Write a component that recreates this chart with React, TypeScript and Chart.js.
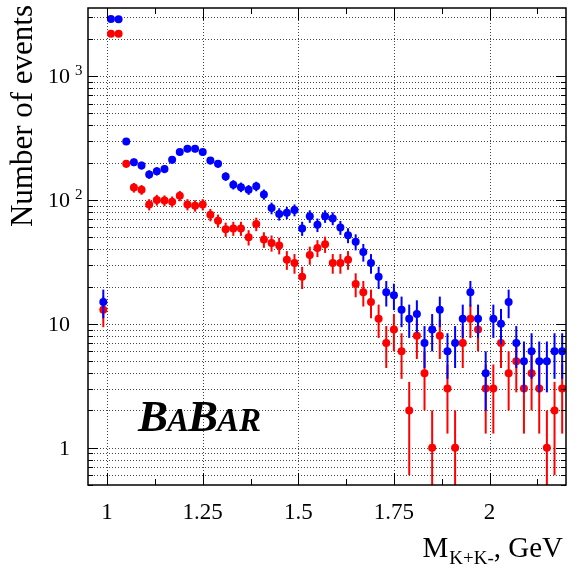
import React, { useEffect, useRef } from "react";
import { Chart, registerables } from "chart.js";

Chart.register(...registerables);

// Bin centres of M(K+K-), GeV
const massBins = [
  0.99, 1.01, 1.03, 1.05, 1.07, 1.09, 1.11, 1.13, 1.15, 1.17, 1.19, 1.21, 1.23, 1.25, 1.27, 1.29,
  1.31, 1.33, 1.35, 1.37, 1.39, 1.41, 1.43, 1.45, 1.47, 1.49, 1.51, 1.53, 1.55, 1.57, 1.59, 1.61,
  1.63, 1.65, 1.67, 1.69, 1.71, 1.73, 1.75, 1.77, 1.79, 1.81, 1.83, 1.85, 1.87, 1.89, 1.91, 1.93,
  1.95, 1.97, 1.99, 2.01, 2.03, 2.05, 2.07, 2.09, 2.11, 2.13, 2.15, 2.17, 2.19,
];

const blueCounts = [
  15, 2900, 2880, 297, 202, 190, 161, 171, 178, 211, 244, 259, 259, 244, 208, 196,
  155, 133, 127, 121, 129, 111, 86, 77, 79, 83, 59, 74, 63, 74, 71, 60,
  52, 46, 38, 31, 24, 18, 17, 13, 11, 12, 7, 9, 13, 6, 7, 11,
  18, 11, 4, 11, 10, 15, 7, 5, 6, 5, 5, 6, 6,
];
const blueErrors = [
  3.9, 53.9, 53.7, 17.2, 14.2, 13.8, 12.7, 13.1, 13.3, 14.5, 15.6, 16.1, 16.1, 15.6, 14.4, 14.0,
  12.4, 11.5, 11.3, 11.0, 11.4, 10.5, 9.3, 8.8, 8.9, 9.1, 7.7, 8.6, 7.9, 8.6, 8.4, 7.7,
  7.2, 6.8, 6.2, 5.6, 4.9, 4.2, 4.1, 3.6, 3.3, 3.5, 2.6, 3.0, 3.6, 2.4, 2.6, 3.3,
  4.2, 3.3, 2.0, 3.3, 3.2, 3.9, 2.6, 2.2, 2.4, 2.2, 2.2, 2.4, 2.4,
];

const redCounts = [
  13, 2200, 2200, 196, 126, 121, 92, 100, 99, 97, 108, 92, 90, 92, 76, 68,
  58, 59, 59, 50, 64, 48, 45, 43, 33, 31, 24, 36, 41, 44, 31, 31,
  33, 21, 18, 15, 11, 7, 9, 6, 2, 8, 4, 1, 8, 3, 1, 7,
  11, 9, 3, 3, 7, 4, 5, 3, 4, 3, 1, 2, 3,
];
const redErrors = [
  3.6, 46.9, 46.9, 14.0, 11.2, 11.0, 9.6, 10.0, 9.9, 9.8, 10.4, 9.6, 9.5, 9.6, 8.7, 8.2,
  7.6, 7.7, 7.7, 7.1, 8.0, 6.9, 6.7, 6.6, 5.7, 5.6, 4.9, 6.0, 6.4, 6.6, 5.6, 5.6,
  5.7, 4.6, 4.2, 3.9, 3.3, 2.6, 3.0, 2.4, 1.4, 2.8, 2.0, 1.0, 2.8, 1.7, 1.0, 2.6,
  3.3, 3.0, 1.7, 1.7, 2.6, 2.0, 2.2, 1.7, 2.0, 1.7, 1.0, 1.4, 1.7,
];

const xMajorTicks = [1, 1.25, 1.5, 1.75, 2];
const xTickLabels = ["1", "1.25", "1.5", "1.75", "2"];
const xMinorTicks = [1.125, 1.375, 1.625, 1.875, 2.125];

const yMajorTicks = [1, 10, 100, 1000];
const yTickBase = ["1", "10", "10", "10"];
const yTickExp = ["", "", "2", "3"];
const yMinorTicks = [
  0.5, 0.6, 0.7, 0.8, 0.9, 2, 3, 4, 5, 6, 7, 8, 9, 20, 30, 40, 50, 60, 70, 80, 90,
  200, 300, 400, 500, 600, 700, 800, 900, 2000, 3000,
];

const X_MIN = 0.95;
const X_MAX = 2.2;
const Y_MIN = 0.5;
const Y_MAX = 3550;

const BLUE = "#0000ff";
const RED = "#ff0000";
const seriesCounts = [blueCounts, redCounts];
const seriesErrors = [blueErrors, redErrors];
const seriesColors = [BLUE, RED];

const SERIF = '"Liberation Serif", "Times New Roman", serif';

const rootPlugin = {
  id: "rootStyle",
  beforeDatasetsDraw(chart: any) {
    const { ctx, chartArea: a, scales } = chart;
    const xs = scales.x;
    const ys = scales.y;
    ctx.save();
    ctx.strokeStyle = "#444";
    ctx.lineWidth = 1;
    ctx.setLineDash([1, 2]);
    for (const v of [...yMajorTicks, ...yMinorTicks]) {
      const y = Math.round(ys.getPixelForValue(v)) + 0.5;
      if (y <= a.top + 1 || y >= a.bottom - 1) continue;
      ctx.beginPath();
      ctx.moveTo(a.left, y);
      ctx.lineTo(a.right, y);
      ctx.stroke();
    }
    for (const v of xMajorTicks) {
      const x = Math.round(xs.getPixelForValue(v)) + 0.5;
      ctx.beginPath();
      ctx.moveTo(x, a.top);
      ctx.lineTo(x, a.bottom);
      ctx.stroke();
    }
    ctx.restore();
  },
  beforeDatasetDraw(chart: any, args: any) {
    const { ctx, chartArea: a, scales } = chart;
    const xs = scales.x;
    const ys = scales.y;
    const vals = seriesCounts[args.index];
    const errs = seriesErrors[args.index];
    if (!vals) return;
    ctx.save();
    ctx.beginPath();
    ctx.rect(a.left, a.top, a.right - a.left, a.bottom - a.top);
    ctx.clip();
    ctx.strokeStyle = seriesColors[args.index];
    ctx.lineWidth = 2;
    for (let i = 0; i < massBins.length; i++) {
      const x = xs.getPixelForValue(massBins[i]);
      const lo = vals[i] - errs[i];
      const hi = vals[i] + errs[i];
      const yLo = lo > 0 ? ys.getPixelForValue(lo) : a.bottom + 2;
      const yHi = ys.getPixelForValue(hi);
      ctx.beginPath();
      ctx.moveTo(x, yLo);
      ctx.lineTo(x, yHi);
      ctx.stroke();
    }
    ctx.restore();
  },
  afterDraw(chart: any) {
    const { ctx, chartArea: a, scales } = chart;
    const xs = scales.x;
    const ys = scales.y;
    ctx.save();
    ctx.setLineDash([]);
    ctx.strokeStyle = "#000";
    ctx.fillStyle = "#000";

    // tick marks
    ctx.lineWidth = 1;
    const yTick = (v: number, len: number) => {
      const y = Math.round(ys.getPixelForValue(v)) + 0.5;
      ctx.beginPath();
      ctx.moveTo(a.left, y);
      ctx.lineTo(a.left + len, y);
      ctx.moveTo(a.right, y);
      ctx.lineTo(a.right - len, y);
      ctx.stroke();
    };
    yMajorTicks.forEach((v) => yTick(v, 10));
    yMinorTicks.forEach((v) => yTick(v, 5));
    const xTick = (v: number, len: number) => {
      const x = Math.round(xs.getPixelForValue(v)) + 0.5;
      ctx.beginPath();
      ctx.moveTo(x, a.bottom);
      ctx.lineTo(x, a.bottom - len);
      ctx.moveTo(x, a.top);
      ctx.lineTo(x, a.top + len);
      ctx.stroke();
    };
    xMajorTicks.forEach((v) => xTick(v, 12));
    xMinorTicks.forEach((v) => xTick(v, 6));

    // frame
    ctx.lineWidth = 1.5;
    ctx.strokeRect(a.left, a.top, a.right - a.left, a.bottom - a.top);

    // x tick labels
    ctx.font = `23px ${SERIF}`;
    ctx.textAlign = "center";
    ctx.textBaseline = "alphabetic";
    xMajorTicks.forEach((v, i) => {
      ctx.fillText(xTickLabels[i], xs.getPixelForValue(v), 519);
    });

    // y tick labels
    yMajorTicks.forEach((v, i) => {
      const y = ys.getPixelForValue(v);
      ctx.font = `22px ${SERIF}`;
      ctx.textAlign = "right";
      ctx.fillText(yTickBase[i], 70, y + 7);
      if (yTickExp[i]) {
        ctx.font = `15px ${SERIF}`;
        ctx.textAlign = "left";
        ctx.fillText(yTickExp[i], 75, y - 1);
      }
    });

    // y title
    ctx.save();
    ctx.translate(32, 5);
    ctx.rotate(-Math.PI / 2);
    ctx.font = `31px ${SERIF}`;
    ctx.textAlign = "right";
    ctx.fillText("Number of events", 0, 0);
    ctx.restore();

    // x title: M_{K+K-}, GeV
    ctx.textAlign = "left";
    const bigFont = `29px ${SERIF}`;
    const subFont = `19px ${SERIF}`;
    ctx.font = bigFont;
    const wM = ctx.measureText("M").width;
    const wTail = ctx.measureText(", GeV").width;
    ctx.font = subFont;
    const wSub = ctx.measureText("K+K-").width;
    let x0 = 563 - (wM + wSub + wTail + 1);
    ctx.font = bigFont;
    ctx.fillText("M", x0, 557);
    x0 += wM + 1;
    ctx.font = subFont;
    ctx.fillText("K+K-", x0, 564);
    x0 += wSub;
    ctx.font = bigFont;
    ctx.fillText(", GeV", x0, 557);

    // BaBar logo
    const big = `bold italic 45px ${SERIF}`;
    const small = `bold italic 33px ${SERIF}`;
    let lx = 138;
    const ly = 431;
    const parts: [string, string][] = [
      ["B", big],
      ["A", small],
      ["B", big],
      ["AR", small],
    ];
    for (const [t, f] of parts) {
      ctx.font = f;
      ctx.fillText(t, lx, ly);
      lx += ctx.measureText(t).width - 1;
    }
    ctx.restore();
  },
};

export default function App() {
  const canvasRef = useRef<HTMLCanvasElement | null>(null);

  useEffect(() => {
    const canvas = canvasRef.current;
    if (!canvas) return;
    const mk = (vals: number[]) => vals.map((v, i) => ({ x: massBins[i], y: v }));
    const chart = new Chart(canvas, {
      type: "scatter",
      data: {
        datasets: [
          {
            label: "blue",
            data: mk(blueCounts),
            pointRadius: 4,
            pointBackgroundColor: BLUE,
            pointBorderWidth: 0,
            showLine: false,
          },
          {
            label: "red",
            data: mk(redCounts),
            pointRadius: 4,
            pointBackgroundColor: RED,
            pointBorderWidth: 0,
            showLine: false,
          },
        ],
      },
      options: {
        animation: false,
        responsive: false,
        devicePixelRatio: 1,
        events: [],
        layout: { padding: { top: 8, right: 11, left: 0, bottom: 0 } },
        plugins: {
          legend: { display: false },
          tooltip: { enabled: false },
        },
        scales: {
          x: {
            type: "linear",
            min: X_MIN,
            max: X_MAX,
            ticks: { display: false },
            grid: { display: false },
            border: { display: false },
            afterFit: (s: any) => {
              s.height = 84;
            },
          },
          y: {
            type: "logarithmic",
            min: Y_MIN,
            max: Y_MAX,
            ticks: { display: false },
            grid: { display: false },
            border: { display: false },
            afterFit: (s: any) => {
              s.width = 88;
            },
          },
        },
      },
      plugins: [rootPlugin],
    } as any);
    return () => chart.destroy();
  }, []);

  return (
    <div style={{ position: "fixed", left: 0, top: 0, width: 577, height: 569, background: "#fff" }}>
      <canvas ref={canvasRef} width={577} height={569} style={{ display: "block" }} />
    </div>
  );
}
